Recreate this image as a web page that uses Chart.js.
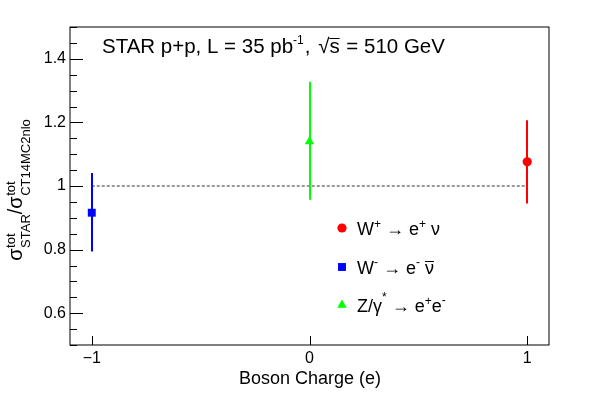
<!DOCTYPE html>
<html>
<head>
<meta charset="utf-8">
<script src="https://cdn.jsdelivr.net/npm/chart.js@4.4.0/dist/chart.umd.min.js"></script>
<style>
  html, body { margin: 0; padding: 0; background: #fff; }
  #wrap { width: 600px; height: 399px; }
</style>
</head>
<body>
<div id="wrap"><canvas id="ratio"></canvas></div>
<script>
// STAR / CT14MC2nlo total cross-section ratios vs boson charge
const bosons = ['W+', 'W-', 'Z'];
const charges = [1, -1, 0];
const ratios = [1.076, 0.916, 1.14];
const errUp = [0.131, 0.125, 0.188];
const errDown = [0.131, 0.122, 0.183];

const xTicks = [-1, 0, 1];
const xTickLabels = ['\u22121', '0', '1'];
const yTicks = [0.6, 0.8, 1, 1.2, 1.4];
const yTickLabels = ['0.6', '0.8', '1', '1.2', '1.4'];
const refX = [-1, 1];   // dashed reference line at ratio = 1
const refY = [1, 1];

const colors = ['#ff0000', '#0000ff', '#00ff00'];
const markers = ['circle', 'rect', 'triangle'];
const markerRadius = [4.6, 5.6, 5.4];

const FONT = '"Liberation Sans", Arial, Helvetica, sans-serif';

/**
 * Draw a run of text pieces with super/subscripts.
 * piece: { t, s, dy, over } or { sup, sub, s, up, down }
 */
function drawRich(ctx, x, y, pieces, base, align) {
  const widthOf = p => {
    if (p.sup !== undefined) {
      ctx.font = p.s + 'px ' + FONT;
      return Math.max(ctx.measureText(p.sup).width, ctx.measureText(p.sub).width);
    }
    ctx.font = (p.s || base) + 'px ' + FONT;
    return ctx.measureText(p.t).width;
  };
  const total = pieces.reduce((a, p) => a + widthOf(p) + (p.gap || 0), 0);
  let cx = align === 'center' ? x - total / 2 : x;
  ctx.textAlign = 'left';
  ctx.textBaseline = 'alphabetic';
  pieces.forEach(p => {
    const w = widthOf(p);
    if (p.sup !== undefined) {
      ctx.font = p.s + 'px ' + FONT;
      ctx.fillText(p.sup, cx, y - p.up);
      ctx.fillText(p.sub, cx, y + p.down);
    } else {
      ctx.font = (p.s || base) + 'px ' + FONT;
      ctx.fillText(p.t, cx, y + (p.dy || 0));
      if (p.over) {
        ctx.save();
        ctx.lineWidth = 1;
        ctx.strokeStyle = ctx.fillStyle;
        ctx.beginPath();
        ctx.moveTo(cx + (p.overFrom || 0), Math.round(y - p.over) + 0.5);
        ctx.lineTo(cx + w, Math.round(y - p.over) + 0.5);
        ctx.stroke();
        ctx.restore();
      }
    }
    cx += w + (p.gap || 0);
  });
}

function drawMarker(ctx, style, x, y, r, color) {
  ctx.fillStyle = color;
  ctx.beginPath();
  if (style === 'circle') {
    ctx.arc(x, y, r, 0, Math.PI * 2);
  } else if (style === 'rect') {
    const h = r * Math.SQRT1_2;
    ctx.rect(x - h, y - h, 2 * h, 2 * h);
  } else {
    ctx.moveTo(x, y - r);
    ctx.lineTo(x + r * Math.sin(Math.PI / 3), y + r * 0.5);
    ctx.lineTo(x - r * Math.sin(Math.PI / 3), y + r * 0.5);
    ctx.closePath();
  }
  ctx.fill();
}

const errorBars = {
  id: 'errorBars',
  beforeDatasetDraw(chart, args) {
    const i = args.index;
    if (i >= bosons.length) return;
    const { ctx, scales: { x, y } } = chart;
    const px = Math.round(x.getPixelForValue(charges[i]));
    ctx.save();
    ctx.strokeStyle = colors[i];
    ctx.lineWidth = 2;
    ctx.beginPath();
    ctx.moveTo(px, y.getPixelForValue(ratios[i] + errUp[i]));
    ctx.lineTo(px, y.getPixelForValue(ratios[i] - errDown[i]));
    ctx.stroke();
    ctx.restore();
  }
};

const rootFrame = {
  id: 'rootFrame',
  afterDraw(chart) {
    const { ctx, chartArea: a, scales: { x, y } } = chart;
    ctx.save();

    // frame
    ctx.strokeStyle = '#000';
    ctx.lineWidth = 1;
    ctx.strokeRect(a.left, a.top, a.right - a.left, a.bottom - a.top);

    // ticks, pointing inward
    ctx.beginPath();
    for (let k = 10; k <= 30; k++) {
      const v = k * 0.05;
      const py = Math.round(y.getPixelForValue(v)) + 0.5;
      const major = k % 4 === 0;
      ctx.moveTo(a.left, py);
      ctx.lineTo(a.left + (major ? 13 : 7), py);
    }
    xTicks.forEach(v => {
      const px = Math.round(x.getPixelForValue(v)) + 0.5;
      ctx.moveTo(px, a.bottom);
      ctx.lineTo(px, a.bottom - 9);
    });
    ctx.stroke();

    ctx.fillStyle = '#000';

    // header
    drawRich(ctx, 102, 53, [
      { t: 'STAR p+p, L = 35 pb' },
      { t: '-1', s: 12, dy: -9, gap: 1 },
      { t: ', ', gap: 2 },
      { t: '\u221A', gap: 0 },
      { t: 's', over: 15, gap: 1 },
      { t: ' = 510 GeV' }
    ], 20.5, 'left');

    // x title
    drawRich(ctx, 310, 384, [{ t: 'Boson Charge (e)' }], 18, 'center');

    // y title, rotated
    ctx.save();
    ctx.translate(22, 190);
    ctx.rotate(-Math.PI / 2);
    drawRich(ctx, 0, 0, [
      { t: '\u03C3', gap: 0.5 },
      { sup: 'tot', sub: 'STAR', s: 13, up: 7, down: 8 },
      { t: '/' },
      { t: '\u03C3', gap: 0.5 },
      { sup: 'tot', sub: 'CT14MC2nlo', s: 13, up: 7, down: 8 }
    ], 20, 'center');
    ctx.restore();

    // legend
    const rows = [
      [{ t: 'W' }, { t: '+', s: 12, dy: -7 }, { t: ' \u2192 e' }, { t: '+', s: 12, dy: -7 }, { t: ' \u03BD' }],
      [{ t: 'W' }, { t: '-', s: 12, dy: -8 }, { t: ' \u2192 e' }, { t: '-', s: 12, dy: -8 }, { t: ' ' }, { t: '\u03BD', over: 13 }],
      [{ t: 'Z/\u03B3' }, { t: '*', s: 12, dy: -11 }, { t: ' \u2192 e' }, { t: '+', s: 12, dy: -7 }, { t: 'e' }, { t: '-', s: 12, dy: -8 }]
    ];
    const rowY = [228, 267, 305];
    rows.forEach((r, i) => {
      drawMarker(ctx, markers[i], 342, rowY[i], markerRadius[i], colors[i]);
      ctx.fillStyle = '#000';
      drawRich(ctx, 357, rowY[i] + 6.5, r, 18, 'left');
    });

    ctx.restore();
  }
};

const pointSets = bosons.map((b, i) => ({
  label: b,
  data: [{ x: charges[i], y: ratios[i] }],
  pointStyle: markers[i],
  pointRadius: markerRadius[i],
  pointHoverRadius: markerRadius[i],
  pointBackgroundColor: colors[i],
  pointBorderColor: colors[i],
  pointBorderWidth: 0,
  showLine: false,
  order: 0
}));

const refSet = {
  label: 'ratio = 1',
  type: 'line',
  data: refX.map((v, i) => ({ x: v, y: refY[i] })),
  borderColor: '#333',
  borderWidth: 1,
  borderDash: [3, 2],
  pointRadius: 0,
  fill: false,
  order: 1
};

new Chart(document.getElementById('ratio'), {
  type: 'scatter',
  data: { datasets: [...pointSets, refSet] },
  options: {
    responsive: true,
    maintainAspectRatio: false,
    animation: false,
    layout: { padding: { left: 0, right: 51, top: 27, bottom: 0 } },
    plugins: {
      legend: { display: false },
      tooltip: { enabled: false }
    },
    scales: {
      x: {
        type: 'linear',
        min: -1.1,
        max: 1.1,
        afterFit(scale) { scale.height = 54; },
        afterBuildTicks(scale) { scale.ticks = xTicks.map(v => ({ value: v })); },
        grid: { display: false, drawTicks: false },
        border: { display: false },
        ticks: {
          padding: 4,
          maxRotation: 0,
          color: '#000',
          font: { family: FONT, size: 16 },
          callback: (v) => xTickLabels[xTicks.indexOf(v)]
        }
      },
      y: {
        type: 'linear',
        min: 0.5,
        max: 1.5,
        afterFit(scale) { scale.width = 70; },
        afterBuildTicks(scale) { scale.ticks = yTicks.map(v => ({ value: v })); },
        grid: { display: false, drawTicks: false },
        border: { display: false },
        ticks: {
          padding: 4,
          color: '#000',
          font: { family: FONT, size: 16 },
          callback: (v) => yTickLabels[yTicks.indexOf(v)]
        }
      }
    }
  },
  plugins: [errorBars, rootFrame]
});
</script>
</body>
</html>
